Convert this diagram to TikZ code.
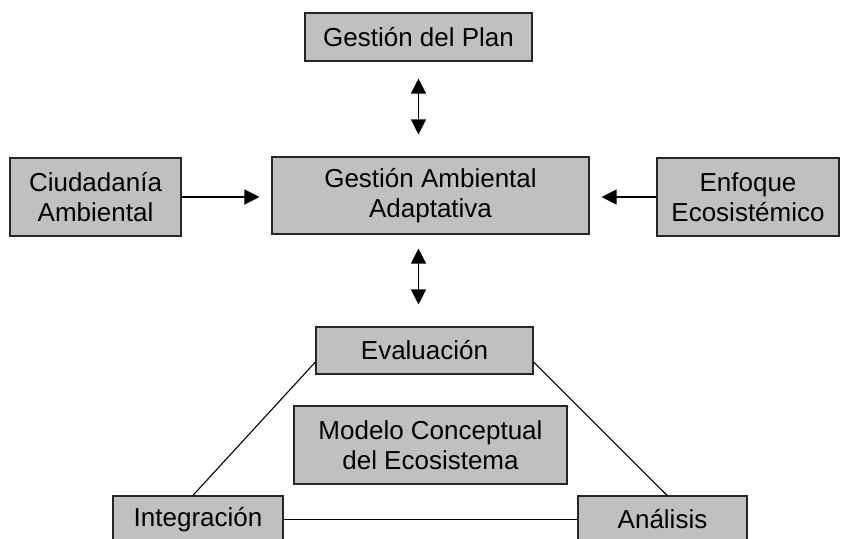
\documentclass[tikz,border=0pt]{standalone}
\usepackage{fontspec}
\setmainfont{Liberation Sans}
\usetikzlibrary{arrows.meta}
\definecolor{boxgray}{HTML}{C0C0C0}
\begin{document}
\begin{tikzpicture}[x=1pt,y=1pt,
  font=\fontsize{26}{30}\selectfont,
  b/.style={draw=black!85,line width=1.1pt,fill=boxgray,align=center,inner sep=0pt},
  a/.style={line width=1.2pt,-{Triangle[length=15pt,width=15pt]}},
  aa/.style={line width=1.2pt,{Triangle[length=15pt,width=15pt]}-{Triangle[length=15pt,width=15pt]}},
  l/.style={line width=1.1pt}]
\useasboundingbox (0,0) rectangle (848,-538);
\node[b,minimum width=227pt,minimum height=48pt] (plan) at (418.5,-37) {Gestión del Plan};
\node[b,minimum width=317pt,minimum height=77pt] (gaa) at (430.5,-195.5) {Gestión Ambiental\\Adaptativa};
\node[b,minimum width=171pt,minimum height=78pt] (ciud) at (95.5,-197) {Ciudadanía\\Ambiental};
\node[b,minimum width=182pt,minimum height=78pt] (enfo) at (748,-197) {Enfoque\\Ecosistémico};
\node[b,minimum width=217pt,minimum height=47pt] (eval) at (424.5,-350.5) {Evaluación};
\node[b,minimum width=273pt,minimum height=78pt] (mod) at (430.5,-445) {Modelo Conceptual\\del Ecosistema};
\node[b,minimum width=170pt,minimum height=47pt] (integ) at (198,-519.5) {Integración};
\node[b,minimum width=169pt,minimum height=47pt] (anal) at (662.5,-519.5) {Análisis};
% flechas
\draw[aa,shorten <=17pt,shorten >=22pt] (plan.south) -- (plan.south |- gaa.north);
\draw[aa,shorten <=14pt,shorten >=22pt] (plan.south |- gaa.south) -- (plan.south |- eval.north);
\draw[a,shorten >=12pt] (ciud.east) -- (ciud.east -| gaa.west);
\draw[a,shorten >=12pt] (enfo.west) -- (enfo.west -| gaa.east);
% triangulo
\draw[l] (eval.186) -- (integ.102);
\draw[l] (eval.354) -- (anal.79);
\draw[l] (integ.east) -- (anal.west);
\end{tikzpicture}
\end{document}
